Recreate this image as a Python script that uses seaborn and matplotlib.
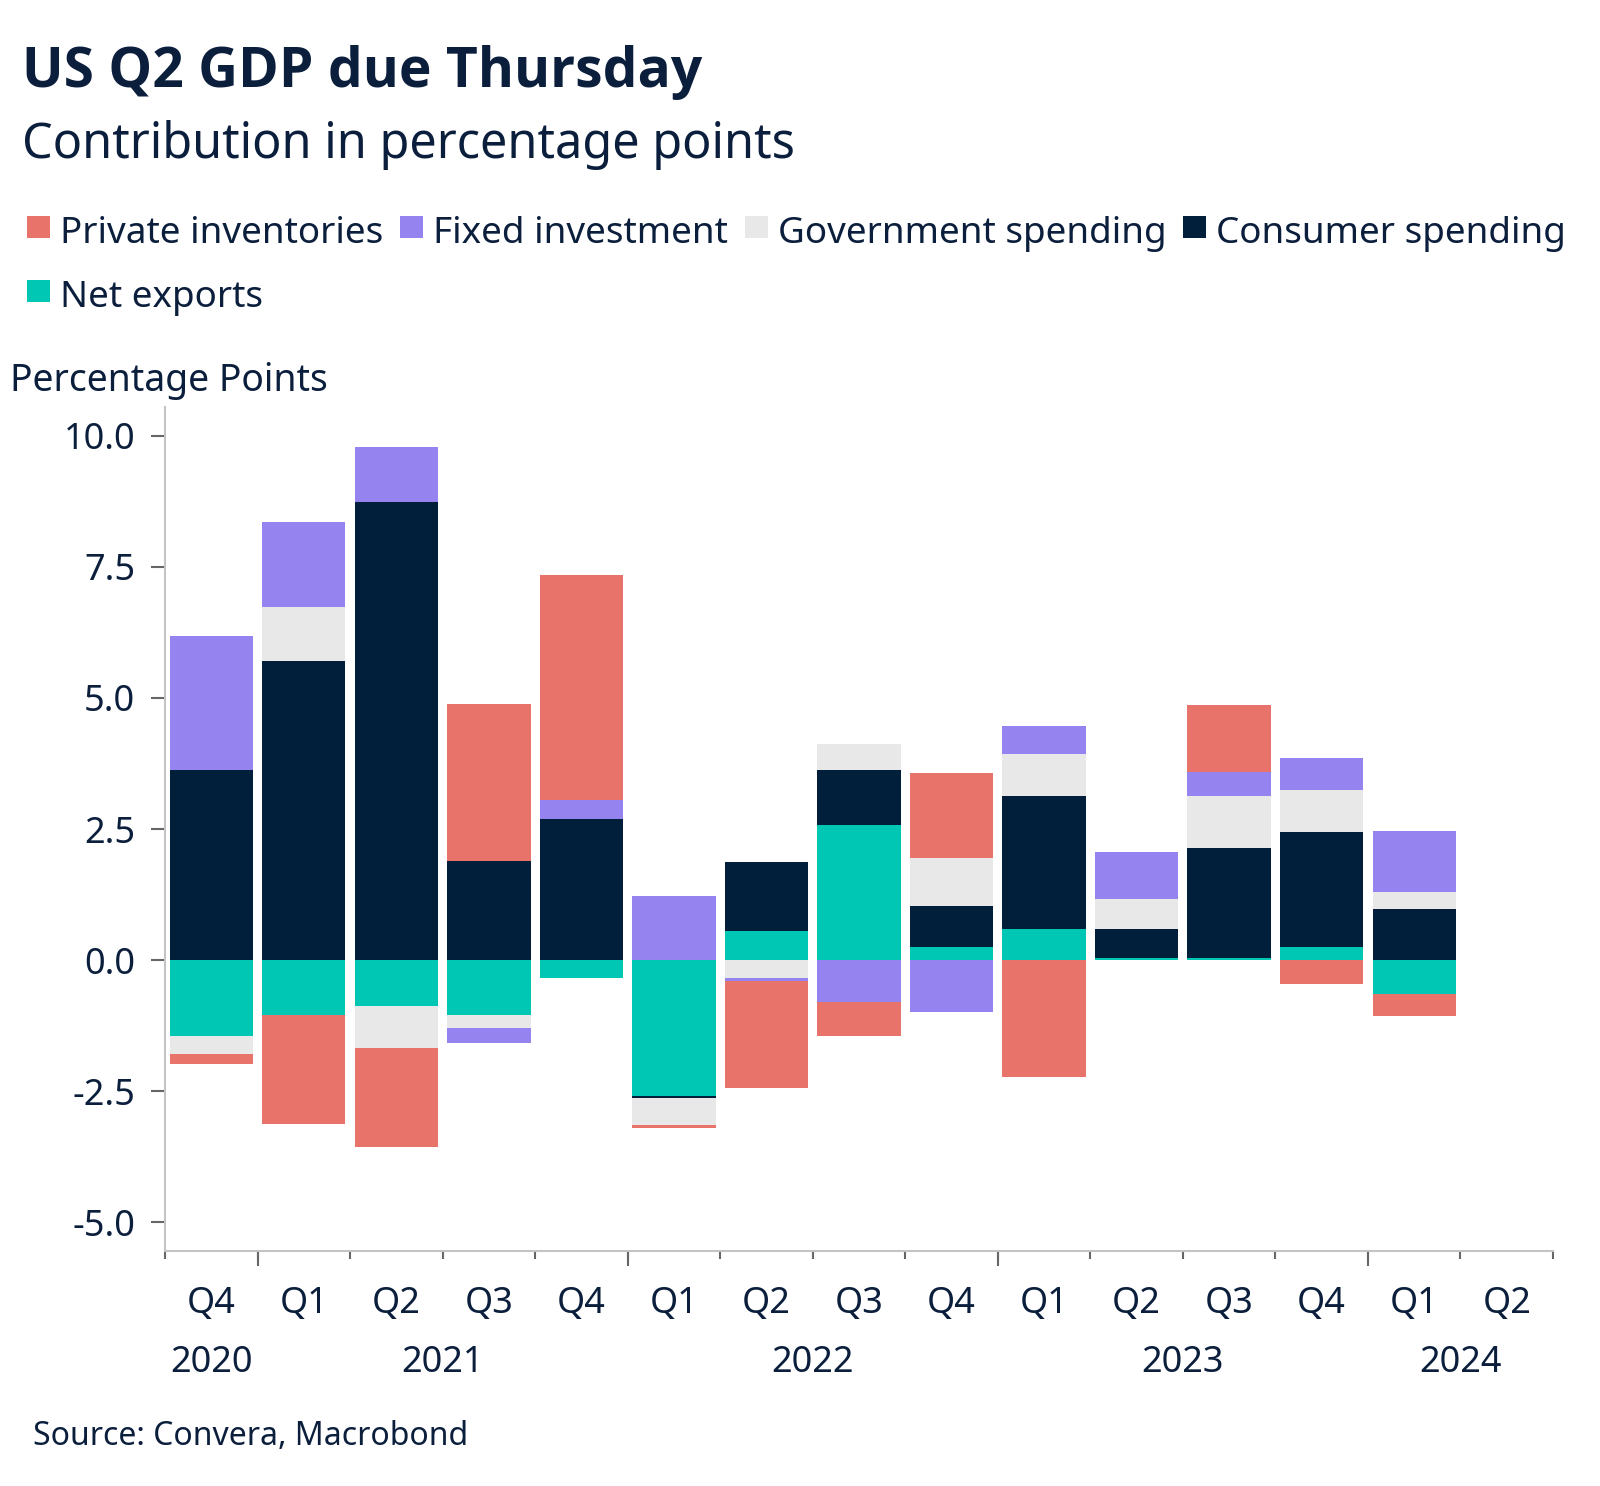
import numpy as np
import pandas as pd
import matplotlib
matplotlib.use("Agg")
import matplotlib.pyplot as plt
from matplotlib.patches import Rectangle
import seaborn as sns

# ---------------- data ----------------
quarters = ["Q4", "Q1", "Q2", "Q3", "Q4", "Q1", "Q2", "Q3", "Q4", "Q1", "Q2", "Q3", "Q4", "Q1", "Q2"]
years = ["2020", "2021", "2021", "2021", "2021", "2022", "2022", "2022", "2022",
         "2023", "2023", "2023", "2023", "2024", "2024"]

net_exports = [-1.45, -1.05, -0.88, -1.04, -0.34, -2.60, 0.55, 2.58, 0.25, 0.59, 0.04, 0.03, 0.25, -0.65, np.nan]
consumer_spending = [3.63, 5.70, 8.73, 1.89, 2.70, -0.03, 1.33, 1.05, 0.79, 2.53, 0.55, 2.11, 2.20, 0.98, np.nan]
government_spending = [-0.35, 1.04, -0.79, -0.26, 0.00, -0.52, -0.35, 0.49, 0.90, 0.82, 0.57, 0.99, 0.79, 0.31, np.nan]
fixed_investment = [2.55, 1.62, 1.05, -0.28, 0.36, 1.22, -0.05, -0.80, -0.99, 0.53, 0.90, 0.46, 0.61, 1.18, np.nan]
private_inventories = [-0.18, -2.07, -1.89, 2.99, 4.28, -0.06, -2.04, -0.65, 1.62, -2.23, 0.00, 1.27, -0.46, -0.42, np.nan]

year_labels = ["2020", "2021", "2022", "2023", "2024"]

# stacking order from the zero line outwards
series_names = ["Net exports", "Consumer spending", "Government spending",
                "Fixed investment", "Private inventories"]
series_colors = {"Net exports": "#00C7B3", "Consumer spending": "#011F3A",
                 "Government spending": "#E8E8E8", "Fixed investment": "#9584F0",
                 "Private inventories": "#E8736A"}
legend_rows = [["Private inventories", "Fixed investment", "Government spending", "Consumer spending"],
               ["Net exports"]]

TEXT = "#0B1F3D"

periods = [f"{q} {y}" for q, y in zip(quarters, years)]
df = pd.DataFrame({
    "period": periods,
    "Net exports": net_exports,
    "Consumer spending": consumer_spending,
    "Government spending": government_spending,
    "Fixed investment": fixed_investment,
    "Private inventories": private_inventories,
})
vals = df[series_names]
pos_cum = vals.clip(lower=0).cumsum(axis=1)
neg_cum = vals.clip(upper=0).cumsum(axis=1)

# year groupings: centre of each year's quarters, and boundaries between years
idx = np.arange(len(periods))
year_centres = [idx[np.array(years) == y].mean() for y in year_labels]
year_bounds = [i - 0.5 for i in range(1, len(years)) if years[i] != years[i - 1]]

# ---------------- style ----------------
sns.set_theme(style="white")
plt.rcParams["font.family"] = ["Noto Sans", "DejaVu Sans"]
plt.rcParams["axes.unicode_minus"] = False

W, H = 1600, 1486
fig = plt.figure(figsize=(W / 100, H / 100), dpi=100)
ax = fig.add_axes([165 / W, 1 - 1251 / H, (1553 - 165) / W, (1251 - 407) / H])

# draw stacked (diverging) bars as overlaid cumulative layers, outermost first
for name in reversed(series_names):
    for cum in (pos_cum, neg_cum):
        layer = pd.DataFrame({"period": df["period"], "value": cum[name]}).dropna()
        sns.barplot(data=layer, x="period", y="value", order=periods,
                    color=series_colors[name], saturation=1, width=0.9,
                    errorbar=None, linewidth=0, ax=ax)

ax.set_xlim(-0.5, len(periods) - 0.5)
ax.set_ylim(-5.55, 10.55)
ax.set_xlabel("")
ax.set_ylabel("")

# spines
for s in ("top", "right"):
    ax.spines[s].set_visible(False)
for s in ("left", "bottom"):
    ax.spines[s].set_color("#C4C4C4")
    ax.spines[s].set_linewidth(1.5)

# y axis
yt = [-5, -2.5, 0, 2.5, 5, 7.5, 10]
ax.set_yticks(yt, labels=[f"{v:.1f}" for v in yt])
ax.tick_params(axis="y", left=True, length=10, width=1.5, color="#666666",
               pad=11.5, labelsize=26, labelcolor=TEXT)

# x axis: short ticks at every quarter boundary, quarter labels centred
bounds = np.arange(-0.5, len(periods), 1.0)
ax.set_xticks(bounds, labels=[""] * len(bounds))
ax.set_xticks(idx, labels=quarters, minor=True)
ax.tick_params(axis="x", which="major", bottom=True, length=5.5, width=1.5, color="#666666")
ax.tick_params(axis="x", which="minor", bottom=True, length=0, pad=25,
               labelsize=26, labelcolor=TEXT)

# longer ticks at year boundaries
sec_ticks = ax.secondary_xaxis("bottom")
sec_ticks.set_xticks(year_bounds, labels=[""] * len(year_bounds))
sec_ticks.tick_params(length=11, width=1.5, color="#666666")
sec_ticks.spines["bottom"].set_visible(False)

# year labels
sec_years = ax.secondary_xaxis("bottom")
sec_years.set_xticks(year_centres, labels=year_labels)
sec_years.tick_params(length=0, pad=68, labelsize=26, labelcolor=TEXT)
sec_years.spines["bottom"].set_visible(False)

# ---------------- texts ----------------
fig.text(22 / W, 1 - 87 / H, "US Q2 GDP due Thursday", fontsize=39.7, fontweight="bold",
         family=["Open Sans", "Noto Sans", "DejaVu Sans"],
         color=TEXT, va="baseline", ha="left")
fig.text(22 / W, 1 - 158 / H, "Contribution in percentage points", fontsize=35,
         color=TEXT, va="baseline", ha="left")
fig.text(10 / W, 1 - 391 / H, "Percentage Points", fontsize=26.9,
         color=TEXT, va="baseline", ha="left")
fig.text(33 / W, 1 - 1445 / H, "Source: Convera, Macrobond", fontsize=23,
         color=TEXT, va="baseline", ha="left")

# legend (manual layout: square marker + label, flowing left to right)
renderer = fig.canvas.get_renderer()
row_baselines = [243, 307]
for row, base in zip(legend_rows, row_baselines):
    x = 26.5
    for name in row:
        fig.add_artist(Rectangle((x / W, 1 - (base - 5) / H), 23 / W, 22 / H,
                                 transform=fig.transFigure, facecolor=series_colors[name],
                                 edgecolor="none"))
        t = fig.text((x + 33) / W, 1 - base / H, name, fontsize=26.5, color=TEXT,
                     va="baseline", ha="left")
        w = t.get_window_extent(renderer).width
        x = x + 33 + w + 17

fig.savefig("out.png", dpi=100)
